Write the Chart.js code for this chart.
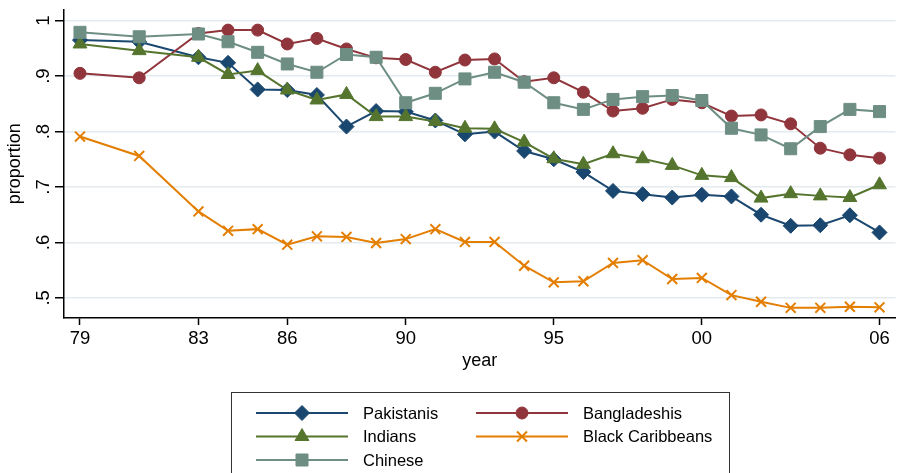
<!DOCTYPE html>
<html>
<head>
<meta charset="utf-8">
<script src="https://cdn.jsdelivr.net/npm/chart.js@4"></script>
<style>
  html, body { margin: 0; padding: 0; background: #fff; }
  #wrap { width: 905px; height: 473px; position: relative; }
</style>
</head>
<body>
<div id="wrap"><canvas id="chart" width="905" height="473"></canvas></div>
<script>
// data
const years = [1979, 1981, 1983, 1984, 1985, 1986, 1987, 1988, 1989, 1990, 1991, 1992, 1993,
               1994, 1995, 1996, 1997, 1998, 1999, 2000, 2001, 2002, 2003, 2004, 2005, 2006];

const pakistanis = [0.965, 0.962, 0.934, 0.924, 0.876, 0.875, 0.866, 0.809, 0.837, 0.836, 0.820, 0.795, 0.800,
                    0.765, 0.750, 0.727, 0.693, 0.687, 0.681, 0.686, 0.683, 0.650, 0.630, 0.631, 0.649, 0.618];
const bangladeshis = [0.905, 0.897, 0.977, 0.983, 0.983, 0.958, 0.968, 0.949, 0.933, 0.930, 0.907, 0.929, 0.931,
                      0.890, 0.897, 0.871, 0.837, 0.842, 0.858, 0.852, 0.828, 0.830, 0.814, 0.770, 0.758, 0.752];
const indians = [0.958, 0.946, 0.934, 0.903, 0.910, 0.875, 0.857, 0.867, 0.827, 0.827, 0.818, 0.806, 0.805,
                 0.781, 0.751, 0.741, 0.760, 0.751, 0.739, 0.721, 0.717, 0.680, 0.688, 0.684, 0.681, 0.704];
const blackCaribbeans = [0.791, 0.756, 0.656, 0.621, 0.624, 0.596, 0.611, 0.610, 0.599, 0.606, 0.624, 0.601, 0.601,
                         0.558, 0.528, 0.530, 0.563, 0.568, 0.534, 0.536, 0.505, 0.493, 0.482, 0.482, 0.484, 0.483];
const chinese = [0.979, 0.971, 0.976, 0.962, 0.943, 0.922, 0.907, 0.939, 0.934, 0.852, 0.869, 0.895, 0.907,
                 0.889, 0.852, 0.840, 0.858, 0.863, 0.865, 0.856, 0.806, 0.794, 0.769, 0.809, 0.840, 0.836];

const xTicks = [1979, 1983, 1986, 1990, 1995, 2000, 2006];
const yTicks = [0.5, 0.6, 0.7, 0.8, 0.9, 1];

Chart.defaults.font.family = "'Liberation Sans', Arial, sans-serif";
Chart.defaults.color = '#000';

function series(label, values, color, style, radius, order) {
    return {
        label: label,
        data: values.map((v, i) => ({ x: years[i], y: v })),
        borderColor: color,
        backgroundColor: color,
        pointBackgroundColor: color,
        pointBorderColor: color,
        borderWidth: 2,
        pointStyle: style,
        pointRadius: radius,
        pointBorderWidth: style === 'crossRot' ? 2 : 1,
        tension: 0,
        order: order
    };
}

const datasets = [
    series('Pakistanis', pakistanis, '#1a476f', 'rectRot', 7.5, 5),
    series('Bangladeshis', bangladeshis, '#90353b', 'circle', 6, 4),
    series('Indians', indians, '#55752f', 'triangle', 8, 3),
    series('Black Caribbeans', blackCaribbeans, '#e37e00', 'crossRot', 7, 2),
    series('Chinese', chinese, '#6e8e84', 'rect', 8.5, 1)
];

// legend box like the original, two columns
const legendBox = {
    id: 'legendBox',
    afterDraw(chart) {
        const ctx = chart.ctx;
        ctx.save();
        ctx.strokeStyle = '#333';
        ctx.lineWidth = 1;
        ctx.strokeRect(231.5, 392.5, 498, 100);

        const cols = [{ x1: 256, x2: 348, tx: 363 }, { x1: 476, x2: 568, tx: 583 }];
        const rows = [413, 436.5, 460];
        ctx.font = "16.5px 'Liberation Sans', Arial, sans-serif";
        ctx.textBaseline = 'middle';
        ctx.textAlign = 'left';
        datasets.forEach((ds, i) => {
            const c = cols[i % 2];
            const y = rows[Math.floor(i / 2)];
            ctx.strokeStyle = ds.borderColor;
            ctx.lineWidth = 2;
            ctx.beginPath();
            ctx.moveTo(c.x1, y);
            ctx.lineTo(c.x2, y);
            ctx.stroke();
            ctx.fillStyle = ds.borderColor;
            ctx.lineWidth = ds.pointBorderWidth;
            Chart.helpers.drawPoint(ctx, {
                pointStyle: ds.pointStyle,
                radius: ds.pointRadius,
                rotation: 0,
                borderWidth: ds.pointBorderWidth
            }, (c.x1 + c.x2) / 2, y);
            ctx.fillStyle = '#000';
            ctx.fillText(ds.label, c.tx, y + 1);
        });
        ctx.restore();
    }
};

new Chart(document.getElementById('chart'), {
    type: 'line',
    data: { datasets: datasets },
    options: {
        responsive: false,
        animation: false,
        layout: { padding: { top: 6, right: 2, left: 0, bottom: 95 } },
        plugins: {
            legend: { display: false },
            tooltip: { enabled: false }
        },
        scales: {
            x: {
                type: 'linear',
                min: 1978.46,
                max: 2006.54,
                afterBuildTicks: s => { s.ticks = xTicks.map(v => ({ value: v })); },
                afterFit: s => { s.height = 60; s.paddingLeft = 0; s.paddingRight = 0; },
                border: { color: '#000', width: 1.5 },
                grid: { drawOnChartArea: false, tickLength: 7, tickColor: '#000', tickWidth: 1.5 },
                ticks: {
                    font: { size: 18.5 },
                    color: '#000',
                    padding: 3,
                    maxRotation: 0,
                    autoSkip: false,
                    callback: v => String(v % 100).padStart(2, '0')
                },
                title: { display: true, text: 'year', font: { size: 18 }, color: '#000', padding: { top: 0, bottom: 6 } }
            },
            y: {
                min: 0.4637,
                max: 1.0202,
                afterBuildTicks: s => { s.ticks = yTicks.map(v => ({ value: v })); },
                afterFit: s => { s.width = 64; s.paddingTop = 0; s.paddingBottom = 0; },
                border: { color: '#000', width: 1.5 },
                grid: { color: '#e3ebef', lineWidth: 1.5, tickLength: 9, tickColor: '#000', tickWidth: 1.5 },
                ticks: {
                    font: { size: 18.5 },
                    color: '#000',
                    minRotation: 90,
                    maxRotation: 90,
                    crossAlign: 'center',
                    padding: 3,
                    callback: v => v === 1 ? '1' : String(v).replace(/^0/, '')
                },
                title: { display: true, text: 'proportion', font: { size: 18 }, color: '#000', padding: { top: 4 } }
            }
        }
    },
    plugins: [legendBox]
});
</script>
</body>
</html>
